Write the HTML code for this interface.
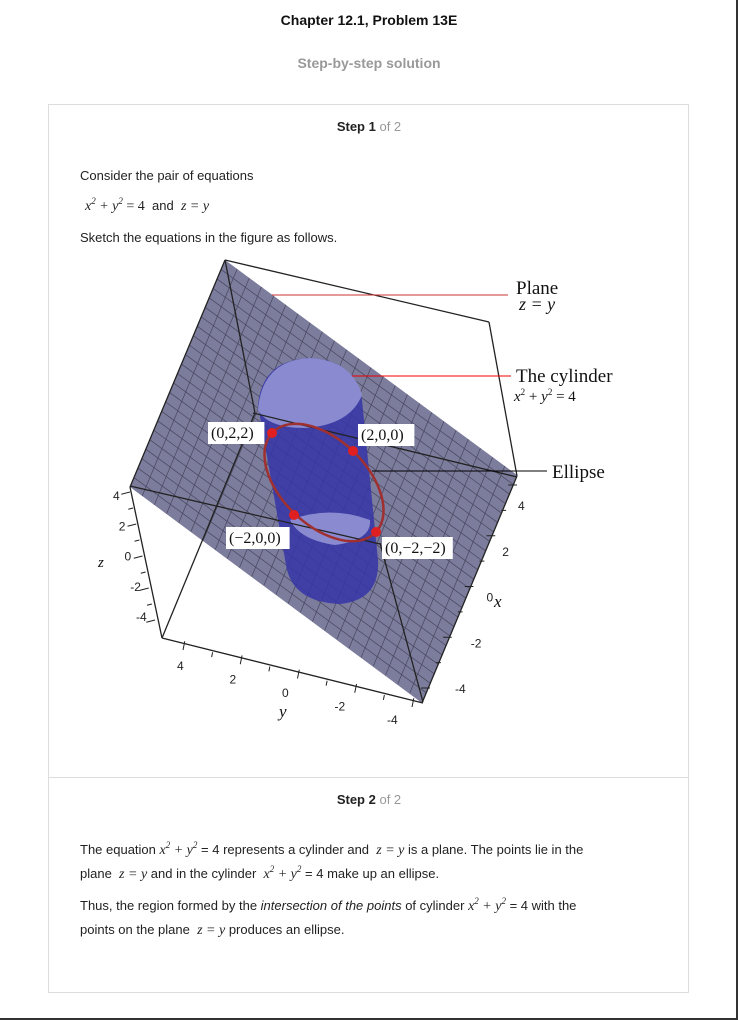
<!DOCTYPE html>
<html><head><meta charset="utf-8"><style>
body{margin:0;width:738px;height:1020px;background:#fff;font-family:"Liberation Sans",Arial,sans-serif;position:relative;overflow:hidden;color:#222}
.a{position:absolute;white-space:nowrap}
.m{font-family:"Liberation Serif",serif;font-style:italic;font-size:14px}
.t{font-size:13px;line-height:16px}
sup{font-size:9px;line-height:0;vertical-align:6px}
</style></head><body>
<div class="a" style="left:0;width:738px;text-align:center;top:12px;font-weight:bold;font-size:14px;color:#111">Chapter 12.1, Problem 13E</div>
<div class="a" style="left:0;width:738px;text-align:center;top:55px;font-weight:bold;font-size:14px;color:#999">Step-by-step solution</div>
<div class="a" style="left:736px;top:0;width:2px;height:1020px;background:#333"></div>
<div class="a" style="left:0;top:1018px;width:738px;height:2px;background:#333"></div>
<div class="a" style="left:48px;top:104px;width:639px;height:887px;border:1px solid #ddd"></div>
<div class="a" style="left:49px;top:777px;width:639px;height:1px;background:#ddd"></div>
<div class="a t" style="left:0;width:738px;text-align:center;top:119px"><b>Step 1</b> <span style="color:#999">of 2</span></div>
<div class="a t" style="left:80px;top:168px">Consider the pair of equations</div>
<div class="a t" style="left:85px;top:198px"><span class="m">x<sup>2</sup> + y<sup>2</sup> </span><span style="font-family:'Liberation Serif',serif;font-size:14px">= 4</span>&nbsp; and &nbsp;<span class="m">z = y</span></div>
<div class="a t" style="left:80px;top:230px">Sketch the equations in the figure as follows.</div>
<div class="a t" style="left:0;width:738px;text-align:center;top:792px"><b>Step 2</b> <span style="color:#999">of 2</span></div>
<div class="a t" style="left:80px;top:842px">The equation <span class="m">x<sup>2</sup> + y<sup>2</sup></span> = 4 represents a cylinder and &nbsp;<span class="m">z = y</span> is a plane. The points lie in the</div>
<div class="a t" style="left:80px;top:866px">plane &nbsp;<span class="m">z = y</span> and in the cylinder &nbsp;<span class="m">x<sup>2</sup> + y<sup>2</sup></span> = 4 make up an ellipse.</div>
<div class="a t" style="left:80px;top:898px">Thus, the region formed by the <i>intersection of the points</i> of cylinder <span class="m">x<sup>2</sup> + y<sup>2</sup></span> = 4 with the</div>
<div class="a t" style="left:80px;top:922px">points on the plane &nbsp;<span class="m">z = y</span> produces an ellipse.</div>

<svg class="a" style="left:0;top:0" width="738" height="1020" id="fig">
<defs><clipPath id="pc"><polygon points="225,260 517,475 422,703 130,487"/></clipPath></defs>
<polygon points="225,260 517,475 422,703 130,487" fill="#7c7c9c"/>
<g id="grid" clip-path="url(#pc)" stroke="#3a3a50" stroke-width="0.7" opacity="0.8"></g>
<g>
<path d="M258,405 Q262,360 310,358 Q355,360 362,400 L378,560 Q380,600 340,604 Q292,602 286,565 Z" fill="#3535a8" opacity="0.85"/>
<path d="M258,410 Q262,360 310,358 Q352,360 362,395 Q350,425 305,428 Q268,428 258,410Z" fill="#8a8ad0"/>
<path d="M290,520 Q330,505 370,520 Q372,540 335,545 Q300,540 290,520Z" fill="#8a8ad0"/>
</g>
<g id="box" stroke="#222" stroke-width="1.3" fill="none"></g>
<g id="tickmarks" stroke="#222" stroke-width="1"></g>
<line x1="272" y1="295" x2="508" y2="295" stroke="#c33" stroke-width="1"/>
<line x1="352" y1="376" x2="511" y2="376" stroke="#e00" stroke-width="1"/>
<line x1="372" y1="471" x2="547" y2="471" stroke="#000" stroke-width="1"/>
<path id="ell" fill="none" stroke="#a03030" stroke-width="2.5"/>
<g id="pts"></g>
<g id="ticks" font-family="Liberation Sans,sans-serif" font-size="12" fill="#222"></g>
<g font-family="Liberation Serif,serif" fill="#111">
<text x="516" y="294" font-size="19">Plane</text>
<text x="519" y="310" font-size="18" font-style="italic">z = y</text>
<text x="516" y="382" font-size="19">The cylinder</text>
<text x="514" y="401" font-size="15"><tspan font-style="italic">x</tspan><tspan font-size="9" dy="-6">2</tspan><tspan dy="6"> + </tspan><tspan font-style="italic">y</tspan><tspan font-size="9" dy="-6">2</tspan><tspan dy="6"> = 4</tspan></text>
<text x="552" y="478" font-size="19">Ellipse</text>
<text x="98" y="567" font-size="15" font-style="italic">z</text>
<text x="494" y="607" font-size="17" font-style="italic">x</text>
<text x="279" y="717" font-size="17" font-style="italic">y</text>
</g>
</svg>
<script>
const pointLabels=["(0,2,2)","(2,0,0)","(−2,0,0)","(0,−2,−2)"];
const pointPx=[[272,433],[353,451],[294,515],[376,532]];
const labelPos=[[208,422],[358,424],[226,527],[382,537]];
const zTicks=["4","2","0","-2","-4"],yTicks=["4","2","0","-2","-4"],xTicks=["4","2","0","-2","-4"];
const ns="http://www.w3.org/2000/svg";
function mk(t,a,p){const e=document.createElementNS(ns,t);for(const k in a)e.setAttribute(k,a[k]);p.appendChild(e);return e;}
const g=document.getElementById('grid');
const P0=[225,260],U=[292,215],V=[-95,227];
for(let i=1;i<24;i++){const f=i/24;
 let l=mk('line',{x1:P0[0]+U[0]*f,y1:P0[1]+U[1]*f,x2:P0[0]+U[0]*f+V[0],y2:P0[1]+U[1]*f+V[1]},g);
 
 
 let m=mk('line',{x1:P0[0]+V[0]*f,y1:P0[1]+V[1]*f,x2:P0[0]+V[0]*f+U[0],y2:P0[1]+V[1]*f+U[1]},g);
 
 }
const b=document.getElementById('box');
[[225,260,489,322],[489,322,517,476],[130,487,162,638],[162,638,423,703],[225,260,255,413],[255,413,162,638],[130,486,380,544],[253,413,517,477],[380,543,423,702],[225,260,130,487],[517,476,422,703]].forEach(s=>{
 const l=mk('line',{x1:s[0],y1:s[1],x2:s[2],y2:s[3]},b);
 
 });
const c=[(pointPx[0][0]+pointPx[3][0])/2,(pointPx[0][1]+pointPx[3][1])/2];
const A=[pointPx[0][0]-c[0],pointPx[0][1]-c[1]],B=[pointPx[1][0]-c[0],pointPx[1][1]-c[1]];
let d='';for(let i=0;i<=72;i++){const t=i/72*2*Math.PI;d+=(i?'L':'M')+(c[0]+Math.cos(t)*A[0]+Math.sin(t)*B[0]).toFixed(1)+','+(c[1]+Math.cos(t)*A[1]+Math.sin(t)*B[1]).toFixed(1);}
document.getElementById('ell').setAttribute('d',d+'Z');
const pg=document.getElementById('pts');
pointPx.forEach((p,i)=>{
 const r=mk('rect',{x:labelPos[i][0],y:labelPos[i][1],width:pointLabels[i].length*7.2+6,height:22,fill:'#fff'},pg);
 
 
 const t=mk('text',{x:labelPos[i][0]+3,y:labelPos[i][1]+16,'font-size':16,'font-family':'Liberation Serif,serif',fill:'#111'},pg);t.textContent=pointLabels[i];
 
 
 const e=mk('circle',{cx:p[0],cy:p[1],r:5,fill:'#e02020'},pg);
 
 });
const tg=document.getElementById('ticks');
function ticks(arr,s,e,name){arr.forEach((v,i)=>{const f=i/(arr.length-1);
 const t=mk('text',{x:s[0]+(e[0]-s[0])*f,y:s[1]+(e[1]-s[1])*f},tg);t.textContent=v;
 
 });}
ticks(zTicks,[113,500],[136,621],'z-tick-label');
ticks(yTicks,[177,670],[387,724],'y-tick-label');
ticks(xTicks,[518,510],[455,693],'x-tick-label');
const tm=document.getElementById('tickmarks');
function marks(s,e,dir,n){for(let i=0;i<=n;i++){const f=i/n,x=s[0]+(e[0]-s[0])*f,y=s[1]+(e[1]-s[1])*f,L=(i%2==0)?9:5;
 const l=mk('line',{x1:x,y1:y,x2:x+dir[0]*L,y2:y+dir[1]*L},tm);
 
 }}
marks([130,492],[155,620],[-0.97,0.25],8);
marks([183,650],[412,707],[0.2,-0.98],8);
marks([517,485],[430,688],[-0.97,0],8);
</script>
</body></html>
